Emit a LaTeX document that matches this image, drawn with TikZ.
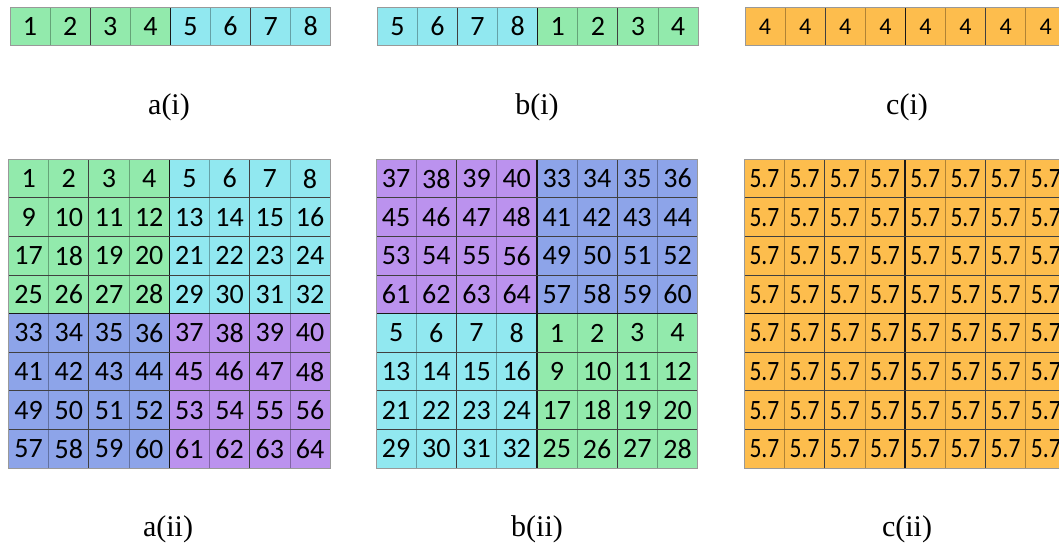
\documentclass[tikz,border=0pt]{standalone}
\usepackage{fontspec}
\setmainfont{Liberation Serif}
\newfontfamily\cellfont{Carlito}
\definecolor{qcol0}{RGB}{146,234,172}
\definecolor{qcol1}{RGB}{145,232,240}
\definecolor{qcol2}{RGB}{141,164,233}
\definecolor{qcol3}{RGB}{187,146,238}
\definecolor{orangecell}{RGB}{253,189,77}
\tikzset{
  cell/.style={minimum width=40.2pt, minimum height=38.6pt, inner sep=0pt, draw=none,
    font=\cellfont\fontsize{28}{32}\selectfont, text=black},
  smallcell/.style={cell, font=\cellfont\fontsize{24}{28}\selectfont},
  lightline/.style={black, opacity=0.3, line width=0.8pt},
  darkline/.style={black!75, line width=0.9pt},
  midline/.style={black!90, line width=1.4pt},
  outline/.style={black!40, line width=0.8pt},
  caption/.style={font=\fontsize{30}{36}\selectfont}
}
% #1 x0, #2 y0, #3 number of rows, #4 cell width, #5 cell height
\newcommand\gridlines[5]{%
  \foreach \k in {1,3,5,7}{\draw[lightline] ({#1+\k*#4},#2) -- ++(0,{#3*#5});}
  \foreach \k in {2,6}{\draw[darkline] ({#1+\k*#4},#2) -- ++(0,{#3*#5});}
  \draw[midline] ({#1+4*#4},#2) -- ++(0,{#3*#5});
  \ifnum#3>1
    \foreach \k in {1,2,3,5,6,7}{\draw[darkline] (#1,{#2+\k*#5}) -- ++({8*#4},0);}
    \draw[midline] (#1,{#2+4*#5}) -- ++({8*#4},0);
  \fi
  \draw[outline] (#1,#2) rectangle ++({8*#4},{#3*#5});
}
\begin{document}
\begin{tikzpicture}[x=1pt,y=-1pt]
\useasboundingbox (0,0) rectangle (1059,546);
\clip (0,0) rectangle (1059,546);
% ---------- a(i)
\foreach \c in {0,...,7}{
  \pgfmathtruncatemacro\n{\c+1}
  \pgfmathtruncatemacro\q{(\c>3)}
  \node[cell, minimum height=38.4pt, fill=qcol\q] (ai-\c) at ({10+(\c+0.5)*40.1},{7.3+0.5*38.4}) {\n};
}
\gridlines{10}{7.3}{1}{40.1}{38.4}
% ---------- b(i)
\foreach \c in {0,...,7}{
  \pgfmathtruncatemacro\cc{mod(\c+4,8)}
  \pgfmathtruncatemacro\n{\cc+1}
  \pgfmathtruncatemacro\q{(\cc>3)}
  \node[cell, minimum height=38.4pt, fill=qcol\q] (bi-\c) at ({377.3+(\c+0.5)*40.1},{7.3+0.5*38.4}) {\n};
}
\gridlines{377.3}{7.3}{1}{40.1}{38.4}
% ---------- c(i)
\foreach \c in {0,...,7}{
  \node[smallcell, minimum height=38.4pt, fill=orangecell] (ci-\c) at ({745+(\c+0.5)*40.1},{7.3+0.5*38.4}) {4};
}
\gridlines{745}{7.3}{1}{40.1}{38.4}
% ---------- a(ii)
\foreach \r in {0,...,7}{
  \foreach \c in {0,...,7}{
    \pgfmathtruncatemacro\n{8*\r+\c+1}
    \pgfmathtruncatemacro\q{2*(\r>3)+(\c>3)}
    \node[cell, fill=qcol\q] (aii-\r-\c) at ({8.5+(\c+0.5)*40.2},{159.3+(\r+0.5)*38.6}) {\n};
  }
}
\gridlines{8.5}{159.3}{8}{40.2}{38.6}
% ---------- b(ii)
\foreach \r in {0,...,7}{
  \foreach \c in {0,...,7}{
    \pgfmathtruncatemacro\rr{mod(\r+4,8)}
    \pgfmathtruncatemacro\cc{mod(\c+4,8)}
    \pgfmathtruncatemacro\n{8*\rr+\cc+1}
    \pgfmathtruncatemacro\q{2*(\rr>3)+(\cc>3)}
    \node[cell, fill=qcol\q] (bii-\r-\c) at ({376+(\c+0.5)*40.2},{159.3+(\r+0.5)*38.6}) {\n};
  }
}
\gridlines{376}{159.3}{8}{40.2}{38.6}
% ---------- c(ii)
\foreach \r in {0,...,7}{
  \foreach \c in {0,...,7}{
    \node[cell, fill=orangecell] (cii-\r-\c) at ({744.3+(\c+0.5)*40.2},{159.3+(\r+0.5)*38.6}) {\scalebox{0.84}[1]{5.7}};
  }
}
\gridlines{744.3}{159.3}{8}{40.2}{38.6}
% ---------- captions
\node[caption] (capai) at (169,107) {a(i)};
\node[caption] (capbi) at (537,107) {b(i)};
\node[caption] (capci) at (907,107) {c(i)};
\node[caption] (capaii) at (168,529) {a(ii)};
\node[caption] (capbii) at (537,529) {b(ii)};
\node[caption] (capcii) at (907,529) {c(ii)};
\end{tikzpicture}
\end{document}
